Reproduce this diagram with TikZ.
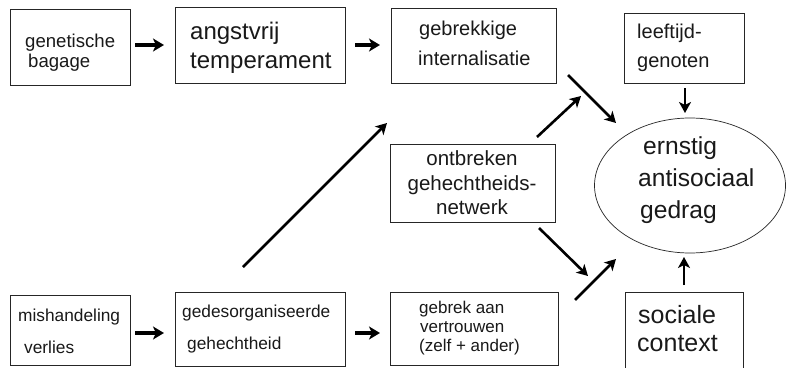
\documentclass[tikz,border=0pt]{standalone}
\usepackage{fontspec}
\setmainfont{Liberation Sans}
\usetikzlibrary{arrows.meta,shapes.geometric}
\begin{document}
\begin{tikzpicture}[x=1pt,y=-1pt,
  boxst/.style={draw=black!85,line width=0.9pt,rectangle,inner sep=0pt},
  txt/.style={inner sep=0pt,anchor=west,align=left,text=black!90},
  arr/.style={line width=2.6pt,-{Stealth[length=11pt,width=12pt,inset=3pt]}},
  arrh/.style={line width=3.6pt,-{Stealth[length=11pt,width=13pt,inset=3pt]}}]
\useasboundingbox[fill=white] (0,0) rectangle (787,367);
% boxes
\node[boxst,minimum width=120pt,minimum height=76pt] (gen) at (70,47) {};
\node[boxst,minimum width=170pt,minimum height=76pt] (ang) at (260,45) {};
\node[boxst,minimum width=165pt,minimum height=75pt] (geb) at (473.5,45.5) {};
\node[boxst,minimum width=120pt,minimum height=70pt] (lee) at (684,48) {};
\node[boxst,minimum width=165pt,minimum height=78pt] (ont) at (472.5,183) {};
\node[boxst,minimum width=120pt,minimum height=70pt] (mis) at (70,330) {};
\node[boxst,minimum width=170pt,minimum height=74pt] (ged) at (260,329) {};
\node[boxst,minimum width=168pt,minimum height=73pt] (vtr) at (474,328.5) {};
\node[boxst,minimum width=118pt,minimum height=77pt] (soc) at (684,330.5) {};
\node[draw=black!85,line width=0.7pt,ellipse,minimum width=191pt,minimum height=135pt,inner sep=0pt] (ell) at (690,185.5) {};
% texts
\node[txt,font=\fontsize{18.6}{21}\selectfont] (tgen) at (25,53) {genetische\\[-1pt]\hspace{3pt}bagage};
\node[txt,font=\fontsize{24}{29}\selectfont] (tang) at (190,47.5) {angstvrij\\temperament};
\node[txt,font=\fontsize{20}{30}\selectfont] (tgeb) at (418,43) {\hspace{1pt}gebrekkige\\internalisatie};
\node[txt,font=\fontsize{20}{29}\selectfont] (tlee) at (637,47.5) {leeftijd-\\genoten};
\node[inner sep=0pt,align=center,text=black!90,font=\fontsize{20.5}{24.5}\selectfont] (tont) at (472,183) {ontbreken\\gehechtheids-\\netwerk};
\node[txt,font=\fontsize{24.6}{32}\selectfont] (tell) at (638,180) {\hspace{5pt}ernstig\\antisociaal\\\hspace{2pt}gedrag};
\node[txt,font=\fontsize{17}{19}\selectfont] (tvtr) at (419,328) {gebrek aan\\\hspace{1pt}vertrouwen\\(zelf + ander)};
\node[txt,font=\fontsize{25}{28}\selectfont] (tsoc) at (637,329) {\hspace{1pt}sociale\\context};
\node[txt,font=\fontsize{17.3}{32}\selectfont] (tmis) at (18,331) {mishandeling\\\hspace{6pt}verlies};
\node[txt,font=\fontsize{17.3}{32}\selectfont] (tged) at (182,329) {gedesorganiseerde\\\hspace{5pt}gehechtheid};
% arrow end coordinates
\coordinate (a1s) at (135,45); \coordinate (a1e) at (164,45);
\coordinate (a2s) at (355,45); \coordinate (a2e) at (380,45);
\coordinate (a3s) at (135,333); \coordinate (a3e) at (164,333);
\coordinate (a4s) at (355,333); \coordinate (a4e) at (380,333);
\coordinate (a5s) at (243,267); \coordinate (a5e) at (387,123);
\coordinate (a6s) at (568,75); \coordinate (a6e) at (616,123);
\coordinate (a7s) at (537,137); \coordinate (a7e) at (581,96);
\coordinate (a8s) at (685,88); \coordinate (a8e) at (685,113);
\coordinate (a9s) at (539,228); \coordinate (a9e) at (588,276);
\coordinate (a10s) at (575,300); \coordinate (a10e) at (616,259);
\coordinate (a11s) at (684,285); \coordinate (a11e) at (684,257);
\draw[arrh] (a1s) -- (a1e);
\draw[arrh] (a2s) -- (a2e);
\draw[arrh] (a3s) -- (a3e);
\draw[arrh] (a4s) -- (a4e);
\draw[arr] (a5s) -- (a5e);
\draw[arr] (a6s) -- (a6e);
\draw[arr] (a7s) -- (a7e);
\draw[arr] (a8s) -- (a8e);
\draw[arr] (a9s) -- (a9e);
\draw[arr] (a10s) -- (a10e);
\draw[arr] (a11s) -- (a11e);
\end{tikzpicture}
\end{document}
